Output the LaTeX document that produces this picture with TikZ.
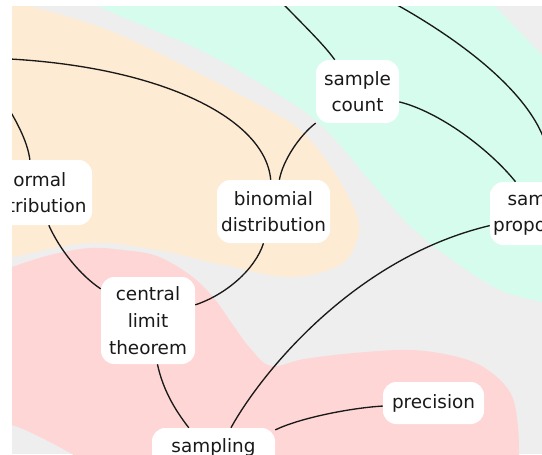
\documentclass[tikz,border=0pt]{standalone}
\usepackage{fontspec}
\setmainfont{DejaVu Sans}
\definecolor{bggray}{HTML}{EEEEEE}
\definecolor{mint}{HTML}{D5FCEC}
\definecolor{peach}{HTML}{FDEBD4}
\definecolor{rose}{HTML}{FED6D6}
\begin{document}
\begin{tikzpicture}[x=0.75pt,y=-0.75pt,
  concept/.style={fill=white, rounded corners=10pt, inner sep=0pt, align=center,
    font=\fontsize{13.8}{20}\selectfont, text=black!90},
  link/.style={draw=black!90, line width=1pt}]
\useasboundingbox (0,0) rectangle (542,454);
\begin{scope}
\clip (12,6) rectangle (542,454);
\fill[bggray] (12,6) rectangle (542,454);
% peach region
\fill[peach] (-20,-20) -- (0,-20) -- plot[smooth, tension=0.6] coordinates {(-5,-3) (30,6) (120,35) (250,100) (300,130) (333,170) (350,200) (358,220) (357,240) (340,265) (290,277) (223,265) (157,250) (90,243) (12,257) (-20,262)} -- cycle;
% mint region
\fill[mint] (80,-20) -- plot[smooth, tension=0.6] coordinates {(85,0) (120,16) (200,50) (271,90) (321,125) (371,182) (411,227) (458,264) (500,290) (542,302) (560,304)} -- (560,70) -- (542,55) -- (495,6) -- (490,-20) -- cycle;
% rose region
\fill[rose] (-20,268) -- plot[smooth, tension=0.6] coordinates {(12,267) (50,255) (90,248) (123,250) (157,256) (190,275) (213,297) (233,325) (250,348) (271,366) (304,359) (354,353) (411,350) (458,357) (488,370) (511,394) (518,427) (519,460)} -- (519,480) -- (80,480) -- plot[smooth, tension=0.6] coordinates {(80,460) (72,454) (40,437) (12,425) (-20,418)} -- cycle;

% nodes
\node[concept, minimum width=62.25pt, minimum height=47.25pt] (sc) at (357.5,91.5) {sample\\count};
\node[concept, minimum width=84.75pt, minimum height=47.25pt] (bd) at (273.5,211.5) {binomial\\distribution};
\node[concept, minimum width=76.5pt, minimum height=47.25pt] (sp) at (541,213.5) {sample\\proportion};
\node[concept, minimum width=87pt, minimum height=48.75pt] (nd) at (34,192.5) {normal\\distribution};
\node[concept, minimum width=70.5pt, minimum height=65.25pt] (clt) at (148,320.5) {central\\limit\\theorem};
\node[concept, minimum width=92.25pt, minimum height=47.25pt, text height=10pt, text depth=21pt] (sam) at (213.5,459.5) {sampling};
\node[concept, minimum width=75.75pt, minimum height=31.5pt] (pre) at (433.5,403) {precision};

% free ends outside the view
\coordinate (t1) at (265,-15);
\coordinate (t2) at (365,-12);
\coordinate (l1) at (-15,58);
\coordinate (l2) at (0,95);

% links
\draw[link] (t1) .. controls (300,22) and (322,42) .. (sc);
\draw[link] (t2) .. controls (440,25) and (565,105) .. (sp);
\draw[link] (sc) .. controls (440,112) and (490,150) .. (sp);
\draw[link] (sc) .. controls (300,135) and (283,160) .. (bd);
\draw[link] (l1) .. controls (150,62) and (265,115) .. (bd);
\draw[link] (l2) .. controls (20,125) and (28,145) .. (nd);
\draw[link] (nd) .. controls (60,250) and (80,275) .. (clt);
\draw[link] (bd) .. controls (255,270) and (225,295) .. (clt);
\draw[link] (clt) .. controls (163,390) and (175,410) .. (sam);
\draw[link] (sam) .. controls (260,375) and (353,258) .. (sp);
\draw[link] (sam) .. controls (300,418) and (350,408) .. (pre);
\end{scope}
\end{tikzpicture}
\end{document}
